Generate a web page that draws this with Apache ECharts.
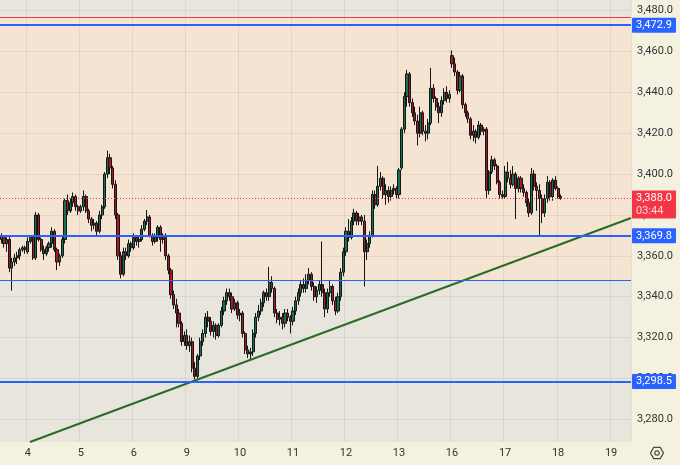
<!DOCTYPE html>
<html><head><meta charset="utf-8">
<script src="https://cdn.jsdelivr.net/npm/echarts@6/dist/echarts.min.js"></script>
<style>html,body{margin:0;padding:0;background:#f4f1e0;}#c{width:680px;height:465px;}</style>
</head><body><div id="c"></div>
<script>
// ---- data ----
const dayLabels = ['4','5','6','9','10','11','12','13','16','17','18','19'];
const SLOTS = 238, FIRST_DAY_SLOT = 10, SLOTS_PER_DAY = 20;
const opens = [3368,3369.5,3366,3368,3354,3357,3359,3360,3363,3364,
3362,3367,3369,3359,3380,3368,3363,3361,3364,3366,
3372,3363,3357,3360,3368,3387,3382,3386,3389,3384,
3382,3384,3389,3382,3378,3375,3376,3372,3380,3384,
3400,3408,3403,3395,3380,3360,3351,3362,3360,3366,
3364,3369,3367,3368,3373,3377,3379,3370,3367,3369,
3374,3368,3370,3360,3353,3341,3336,3332,3327,3318,
3321,3316,3318,3305,3301,3311,3318,3322,3330,3328,
3323,3326,3321,3326,3333,3338,3342,3340,3334,3337,
3331,3332,3322,3314,3312,3313,3322,3330,3333,3337,
3342,3340,3347,3344,3332,3329,3330,3327,3332,3330,
3328,3333,3338,3342,3346,3344,3348,3351,3345,3340,
3343,3346,3342,3334,3342,3345,3338,3333,3340,3352,
3362,3372,3369,3377,3381,3377,3379,3377,3362,3366,
3370,3390,3385,3394,3398,3390,3392,3389,3392,3393,
3390,3403,3422,3438,3449,3435,3430,3426,3420,3430,
3421,3420,3425,3442,3437,3433,3430,3436,3440,3437,
3458,3454,3450,3441,3448,3434,3430,3427,3419,3421,
3418,3424,3421,3422,3392,3401,3407,3404,3396,3390,
3389,3401,3398,3395,3400,3393,3398,3393,3391,3386,
3381,3400,3394,3392,3388,3381,3388,3396,3389,3397,
3393,3389];
const closes = [3369.5,3366,3368,3354,3357,3359,3360,3363,3364,3363,
3367,3369,3359,3380,3368,3363,3361,3364,3366,3372,
3363,3357,3360,3368,3387,3382,3386,3389,3384,3382,
3384,3389,3382,3378,3375,3376,3372,3380,3384,3400,
3408,3403,3395,3380,3360,3351,3362,3360,3366,3364,
3369,3367,3368,3373,3377,3379,3370,3367,3369,3374,
3368,3370,3360,3353,3341,3336,3332,3327,3318,3321,
3316,3318,3305,3301,3311,3318,3322,3330,3328,3323,
3326,3321,3326,3333,3338,3342,3340,3334,3337,3331,
3332,3322,3314,3312,3313,3322,3330,3333,3337,3342,
3340,3347,3344,3332,3329,3330,3327,3332,3330,3328,
3333,3338,3342,3346,3344,3348,3351,3345,3340,3343,
3346,3342,3334,3342,3345,3338,3333,3340,3352,3362,
3372,3369,3377,3381,3377,3379,3377,3362,3366,3370,
3390,3385,3394,3398,3390,3392,3389,3392,3393,3390,
3402,3422,3438,3449,3435,3430,3426,3420,3430,3421,
3420,3425,3442,3437,3433,3430,3436,3440,3437,3439,
3454,3450,3441,3448,3434,3430,3427,3419,3421,3418,
3424,3421,3422,3392,3401,3407,3404,3396,3390,3389,
3401,3398,3395,3400,3393,3398,3393,3391,3386,3381,
3400,3394,3392,3388,3381,3388,3396,3389,3397,3393,
3389,3388];
const lows = [3366,3364,3362,3352,3343,3355,3356,3358,3362,3361,
3361,3366,3358,3358,3367,3362,3358,3360,3362,3364,
3362,3353,3355,3359,3366,3380,3381,3384,3382,3380,
3381,3382,3381,3376,3372,3373,3370,3371,3378,3383,
3398,3400,3393,3378,3358,3349,3350,3358,3359,3362,
3363,3365,3364,3367,3372,3375,3369,3365,3366,3367,
3362,3366,3358,3351,3339,3334,3325,3325,3316,3316,
3314,3313,3303,3299.5,3300,3309,3316,3320,3325,3321,
3320,3319,3320,3325,3331,3336,3338,3332,3333,3329,
3328,3320,3312,3310,3309.3,3311,3320,3328,3331,3335,
3338,3338,3342,3330,3327,3326,3324,3325,3328,3322,
3326,3331,3336,3340,3342,3342,3346,3343,3338,3337,
3341,3340,3330,3332,3340,3336,3331,3332,3338,3350,
3360,3367,3368,3375,3375,3375,3375,3345,3358,3364,
3369,3383,3384,3392,3388,3385,3386,3387,3390,3388,
3388,3402,3420,3433,3433,3428,3424,3414,3418,3419,
3416,3417,3424,3435,3431,3425,3428,3434,3435,3435,
3452,3448,3439,3440,3432,3428,3425,3417,3416,3415,
3417,3419,3419,3388,3390,3400,3402,3395,3388,3388,
3388,3396,3393,3394,3378,3391,3391,3389,3384,3379,
3380,3392,3382,3370,3376,3379,3386,3387,3387,3392,
3388,3387.5];
const highs = [3371,3370,3369,3370,3359,3361,3362,3364,3365,3365,
3369,3370,3370,3381.5,3381,3369,3365,3365,3367,3374,
3373,3364,3361,3370,3388,3390,3388,3391,3390,3385,
3385,3392,3390,3383,3379,3378,3377,3382,3385,3401,
3411.5,3410,3404,3397,3381,3362,3364,3364,3368,3367,
3371,3370,3370,3375,3378,3382.4,3380,3371,3371,3375,
3375,3371,3371,3361,3354,3343,3339,3334,3328,3323,
3324,3321,3320,3308,3312,3320,3324,3332,3333,3330,
3328,3327,3327,3335,3340,3344,3344,3342,3339,3338,
3334,3333,3323,3316,3315,3324,3332,3336,3339,3343,
3344,3354.6,3350,3345,3334,3333,3332,3334,3334,3331,
3335,3340,3344,3348,3349,3351,3354,3352,3347,3345,
3348,3367,3344,3344,3348,3346,3340,3342,3354,3364,
3374,3378,3379,3383,3382,3381,3380,3380,3368,3372,
3392,3392,3404,3401,3399,3395,3394,3394,3395,3394,
3403,3423,3440,3451,3450,3437,3433,3429,3433,3431,
3424,3427,3452,3444,3438,3435,3438,3442,3443,3441,
3460.5,3457,3451,3450,3449,3435,3431,3428,3424,3422,
3426,3425,3423,3423,3402,3409,3408,3405,3397,3392,
3404,3406,3402,3404,3401,3399,3399,3395,3392,3388,
3403,3402,3396,3395,3390,3390,3399,3397,3398,3399,
3394,3390];
const yTicks = [3280,3300,3320,3340,3360,3380,3400,3420,3440,3460,3480];
const yRange = [3268.9, 3485.2];
const blueLevels = [3472.9, 3369.8, 3298.5];
const zoneLow = 3348.2, zoneHigh = 3476.9;
const lastPrice = 3388.0, countdown = '03:44';
const trendline = [[10.8, 3268.9], [237.5, 3378.5]];

// ---- helpers ----
function fmt(v){
  const [i,d] = Number(v).toFixed(1).split('.');
  return i.replace(/\B(?=(\d{3})+$)/g, ',') + '.' + d;
}
const cats = Array.from({length: SLOTS}, (_, i) => {
  const d = i - FIRST_DAY_SLOT;
  return (d >= 0 && d % SLOTS_PER_DAY === 0 && dayLabels[d / SLOTS_PER_DAY]) ? dayLabels[d / SLOTS_PER_DAY] : '~' + i;
});
const isDay = (idx, val) => !String(val).startsWith('~');
const ohlc = opens.map((o, i) => [o, closes[i], lows[i], highs[i]]);

const FONT = 'Roboto';
const blueLabel = v => ({
  show: true, position: 'end', distance: 1, formatter: fmt(v),
  color: '#fff', backgroundColor: '#2962ff', padding: [2, 4, 1, 4],
  fontSize: 11, fontFamily: FONT, lineHeight: 12, borderRadius: 1
});

const chart = echarts.init(document.getElementById('c'), null, {renderer: 'canvas'});
chart.setOption({
  animation: false,
  backgroundColor: '#f4f1e0',
  grid: {left: 0, right: 49, top: 0, bottom: 23, show: true, backgroundColor: '#e8e6dc', borderWidth: 0},
  xAxis: [{
    type: 'category', data: cats, boundaryGap: true, z: 1.5,
    axisLine: {show: false}, axisTick: {show: false},
    axisLabel: {interval: isDay, formatter: v => isDay(0, v) ? v : '', color: '#333', fontSize: 11, fontFamily: FONT, margin: 6},
    splitLine: {show: true, interval: isDay, lineStyle: {color: 'rgba(90,80,60,0.10)', width: 1}}
  }, {
    type: 'value', min: -0.5, max: SLOTS - 0.5, show: false
  }],
  yAxis: {
    type: 'value', position: 'right', min: yRange[0], max: yRange[1], z: 1.5,
    axisLine: {show: false},
    axisTick: {show: false, customValues: yTicks},
    axisLabel: {customValues: yTicks, formatter: v => fmt(v), color: '#333', fontSize: 11, fontFamily: FONT, margin: 6},
    splitLine: {show: true, lineStyle: {color: 'rgba(90,80,60,0.10)', width: 1}}
  },
  graphic: [{
    type: 'group', x: 657, y: 453, silent: true,
    children: [
      {type: 'polygon', shape: {points: [[6.5,0],[3.25,5.6],[-3.25,5.6],[-6.5,0],[-3.25,-5.6],[3.25,-5.6]]}, style: {fill: 'none', stroke: '#444', lineWidth: 1.2}},
      {type: 'circle', shape: {cx: 0, cy: 0, r: 2.2}, style: {fill: 'none', stroke: '#444', lineWidth: 1.2}}
    ]
  }],
  series: [{
    type: 'candlestick', data: ohlc, xAxisIndex: 0, yAxisIndex: 0,
    barWidth: 2.6,
    itemStyle: {color: '#137257', color0: '#aa1628', borderColor: '#151515', borderColor0: '#151515', borderWidth: 1},
    markArea: {silent: true, itemStyle: {color: '#f4e4d1'}, data: [[{yAxis: zoneLow}, {yAxis: zoneHigh}]]},
    markLine: {
      silent: true, symbol: ['none', 'none'],
      data: [
        {yAxis: zoneHigh, lineStyle: {color: '#f23645', width: 1, type: 'solid'}, label: {show: false}},
        {yAxis: zoneLow, lineStyle: {color: '#2962ff', width: 1, type: 'solid'}, label: {show: false}},
        ...blueLevels.map(v => ({yAxis: v, lineStyle: {color: '#2962ff', width: 1.8, type: 'solid'}, label: blueLabel(v)})),
        {yAxis: lastPrice, lineStyle: {color: '#f23645', width: 1, type: [1, 2]},
         label: {show: true, position: 'end', distance: 1, offset: [0, 6],
                 formatter: '{a|' + fmt(lastPrice) + '}\n{b|' + countdown + '}',
                 backgroundColor: '#f23645', padding: [1, 4, 1, 4], borderRadius: 1,
                 rich: {a: {color: '#fff', fontSize: 11, fontFamily: FONT, lineHeight: 13},
                        b: {color: '#ffd3d7', fontSize: 11, fontFamily: FONT, lineHeight: 13}}}}
      ]
    }
  }, {
    type: 'line', xAxisIndex: 1, yAxisIndex: 0, data: trendline,
    symbol: 'none', lineStyle: {color: '#2b6b25', width: 2}, z: 3, silent: true
  }]
});
</script></body></html>
